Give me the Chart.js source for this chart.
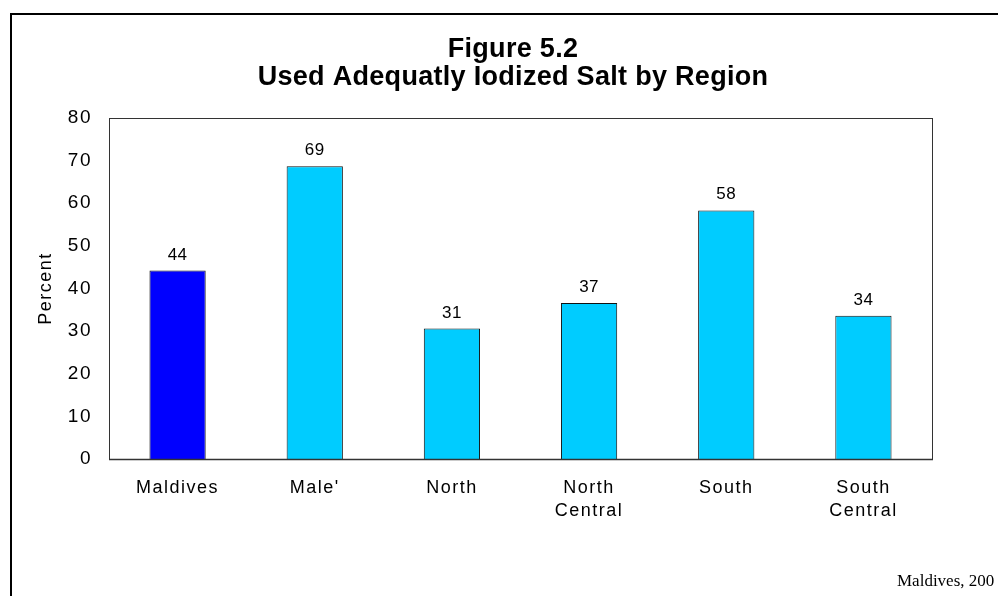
<!DOCTYPE html>
<html>
<head>
<meta charset="utf-8">
<title>Figure 5.2</title>
<script src="https://cdn.jsdelivr.net/npm/chart.js@4/dist/chart.umd.min.js"></script>
<style>
  body { margin: 0; background: #fff; }
  canvas { display: block; }
</style>
</head>
<body>
<canvas id="myChart" width="998" height="596"></canvas>
<script>
const regions = ["Maldives", "Male'", "North", ["North", "Central"], "South", ["South", "Central"]];
const percentUsed = [44.2, 68.7, 30.6, 36.6, 58.3, 33.6];
const titleLines = ["Figure 5.2", "Used Adequatly Iodized Salt by Region"];
const yAxisLabel = "Percent";
const sourceNote = "Maldives, 200";
const yMax = 80;
const yStep = 10;

Chart.defaults.font.family = "'Liberation Sans', Arial, Helvetica, sans-serif";
Chart.defaults.color = "#000";

// extra drawing: frame, titles, value labels, footer
const decorations = {
  id: "decorations",
  beforeDraw(chart) {
    chart.ctx.letterSpacing = "1.5px";
  },
  afterDatasetsDraw(chart) {
    const c = chart.ctx;
    const meta = chart.getDatasetMeta(0);
    c.save();
    c.letterSpacing = "0.5px";
    c.font = "17px 'Liberation Sans', Arial, sans-serif";
    c.fillStyle = "#000";
    c.textAlign = "center";
    c.textBaseline = "alphabetic";
    meta.data.forEach((bar, i) => {
      c.fillText(String(Math.round(percentUsed[i])), bar.x, bar.y - 11);
    });
    c.restore();
  },
  afterDraw(chart) {
    const c = chart.ctx;
    const { left, top, right, bottom } = chart.chartArea;
    c.save();
    c.letterSpacing = "0px";

    // plot frame
    c.strokeStyle = "#333";
    c.lineWidth = 1;
    c.strokeRect(left + 0.5, top + 0.5, right - left, bottom - top);
    c.lineWidth = 1.5;
    c.beginPath();
    c.moveTo(left, bottom + 0.5);
    c.lineTo(right + 1, bottom + 0.5);
    c.stroke();

    // outer border (runs past the right and bottom edges)
    c.strokeStyle = "#000";
    c.lineWidth = 2;
    c.strokeRect(11, 14, 1200, 800);

    // title
    c.fillStyle = "#000";
    c.font = "bold 27px 'Liberation Sans', Arial, sans-serif";
    c.letterSpacing = "0.3px";
    c.textAlign = "center";
    c.textBaseline = "alphabetic";
    c.fillText(titleLines[0], 513, 57);
    c.fillText(titleLines[1], 513, 85);

    // source note
    c.letterSpacing = "0px";
    c.font = "17px 'Liberation Serif', 'Times New Roman', serif";
    c.textAlign = "left";
    c.fillText(sourceNote, 897, 586);
    c.restore();
  }
};

const ctx = document.getElementById("myChart");
new Chart(ctx, {
  type: "bar",
  data: {
    labels: regions,
    datasets: [
      {
        data: percentUsed,
        backgroundColor: (c) => (c.dataIndex === 0 ? "#0000ff" : "#00ccff"),
        borderColor: "#111",
        borderWidth: 1,
        categoryPercentage: 1,
        barPercentage: 0.41,
      },
    ],
  },
  options: {
    responsive: false,
    devicePixelRatio: 1,
    animation: false,
    layout: {
      padding: { top: 118, right: 66, bottom: 0, left: 0 },
    },
    plugins: {
      legend: false,
      tooltip: { enabled: false },
    },
    scales: {
      x: {
        grid: { display: false, drawTicks: false },
        border: { display: false },
        ticks: {
          padding: 17,
          maxRotation: 0,
          autoSkip: false,
          font: { size: 18, lineHeight: 1.3 },
        },
        afterFit(scale) {
          scale.height = 137;
        },
      },
      y: {
        min: 0,
        max: yMax,
        grid: { display: false, drawTicks: false },
        border: { display: false },
        ticks: {
          stepSize: yStep,
          padding: 17,
          font: { size: 19 },
        },
        title: {
          display: true,
          text: yAxisLabel,
          font: { size: 18, lineHeight: 1.2 },
          padding: { top: 35, bottom: 0 },
        },
        afterFit(scale) {
          scale.width = 109;
        },
      },
    },
  },
  plugins: [decorations],
});
</script>
</body>
</html>
